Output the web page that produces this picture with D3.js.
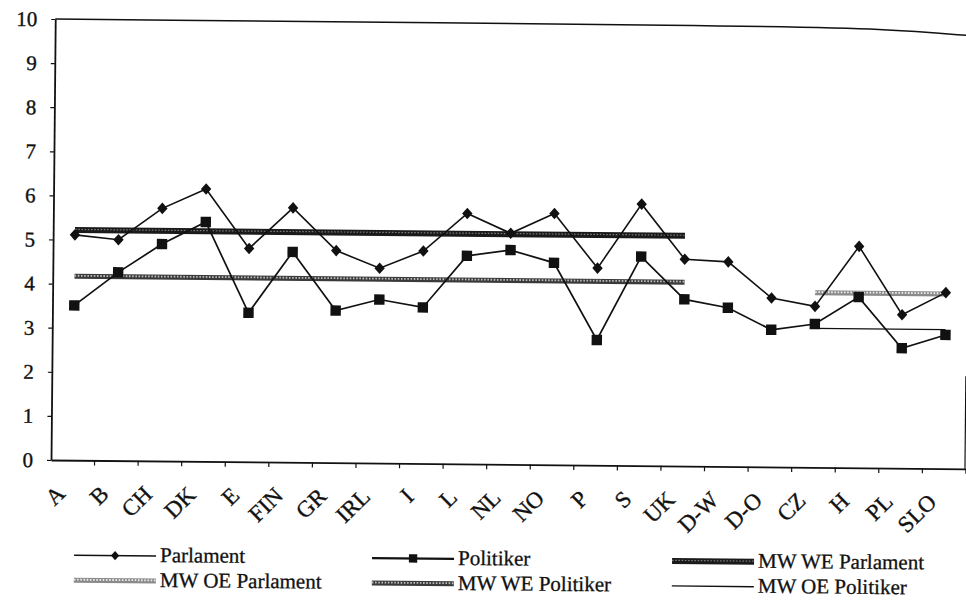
<!DOCTYPE html>
<html>
<head>
<meta charset="utf-8">
<script src="https://cdn.jsdelivr.net/npm/d3@7"></script>
<style>
  body { margin: 0; background: #fff; }
  svg { display: block; font-family: "Liberation Serif", "DejaVu Serif", serif; }
</style>
</head>
<body>
<script>
// Country codes along the x axis.
const categories = ["A", "B", "CH", "DK", "E", "FIN", "GR", "IRL", "I", "L", "NL",
  "NO", "P", "S", "UK", "D-W", "D-O", "CZ", "H", "PL", "SLO"]

// Values.
const parlament = [5.11, 5.01, 5.73, 6.18, 4.84, 5.77, 4.81, 4.42, 4.82, 5.68, 5.24,
  5.70, 4.47, 5.93, 4.69, 4.64, 3.83, 3.65, 5.02, 3.48, 3.99]
const politiker = [3.51, 4.27, 4.92, 5.43, 3.38, 4.77, 3.45, 3.71, 3.54, 4.72, 4.86,
  4.58, 2.84, 4.74, 3.78, 3.60, 3.11, 3.25, 3.87, 2.72, 3.03]

// Mean lines (MW = Mittelwert), each drawn from one country to another.
const meanNames = ["MW WE Parlament", "MW OE Parlament", "MW WE Politiker", "MW OE Politiker"]
const meanValues = [5.22, 3.96, 4.17, 3.15]
const meanFrom = ["A", "CZ", "A", "CZ"]
const meanTo = ["UK", "SLO", "UK", "SLO"]

const yTicks = [0, 1, 2, 3, 4, 5, 6, 7, 8, 9, 10]

// legend reads row by row
const legendLabels = ["Parlament", "Politiker", "MW WE Parlament",
  "MW OE Parlament", "MW WE Politiker", "MW OE Politiker"]

const WIDTH = 966
const HEIGHT = 600
const LEFT = 51
const RIGHT = 966
const TOP = 19
const BOTTOM = 460

// the scan is turned a little clockwise
const TILT = 0.55

const x = d3.scaleBand().domain(categories).range([LEFT, RIGHT])
const y = d3.scaleLinear().domain([0, 10]).range([BOTTOM, TOP])
const cx = (d) => x(d) + x.bandwidth() / 2

// stroke styles of the mean lines: base stroke and a dotted overlay for the texture
const meanStyle = {
  "MW WE Parlament": { color: "#1a1a1a", width: 6, dots: "#7a7a7a", dotWidth: 1.2 },
  "MW OE Parlament": { color: "#8a8a8a", width: 5, dots: "#eeeeee", dotWidth: 1.8 },
  "MW WE Politiker": { color: "#3a3a3a", width: 5, dots: "#bdbdbd", dotWidth: 1.8 },
  "MW OE Politiker": { color: "#111", width: 1.3, dots: null },
}

const diamond = "M0,-5.8L5.2,0L0,5.8L-5.2,0Z"
const square = "M-5.2,-5.2H5.2V5.2H-5.2Z"

const svg = d3.select("body").append("svg").attr("width", WIDTH).attr("height", HEIGHT)
const g = svg.append("g").attr("transform", `rotate(${TILT},${LEFT},${BOTTOM})`)

// frame: top edge (bends down at the right, like the scan) and the bit of right edge
const topEdge = d3.line().curve(d3.curveBasis)
g.append("path")
  .attr("d", topEdge([[LEFT, y(10)], [760, y(10)], [880, y(10) + 2], [RIGHT + 2, y(10) + 8]]))
  .attr("fill", "none").attr("stroke", "#111").attr("stroke-width", 1.5)
g.append("line")
  .attr("x1", RIGHT - 1).attr("x2", RIGHT - 1)
  .attr("y1", y(2.1)).attr("y2", y(0))
  .attr("stroke", "#111").attr("stroke-width", 1.2)

// y axis
const yAxis = g.append("g")
  .attr("transform", `translate(${LEFT},0)`)
  .call(d3.axisLeft(y).tickValues(yTicks).tickSize(4).tickSizeOuter(0).tickPadding(14))
yAxis.select(".domain").attr("stroke", "#111").attr("stroke-width", 1.8)
yAxis.selectAll(".tick line").attr("stroke", "#111").attr("stroke-width", 1.2)
yAxis.selectAll(".tick text")
  .attr("font-family", "Liberation Serif").attr("font-size", 21).attr("fill", "#111")
  .attr("stroke", "#111").attr("stroke-width", 0.35)

// x axis: labels under the band centres, ticks on the band edges
const xAxis = g.append("g")
  .attr("transform", `translate(0,${BOTTOM})`)
  .call(d3.axisBottom(x).tickSize(0).tickSizeOuter(0))
xAxis.select(".domain").attr("stroke", "#111").attr("stroke-width", 1.8)
xAxis.selectAll(".tick text")
  .attr("font-family", "Liberation Serif").attr("font-size", 23).attr("fill", "#111")
  .attr("stroke", "#111").attr("stroke-width", 0.35)
  .attr("text-anchor", "end")
  .attr("y", null).attr("dy", null)
  .attr("transform", "translate(-6,35) rotate(-45)")

xAxis.selectAll(".edge")
  .data(categories.slice(1).concat(["end"]))
  .join("line")
  .attr("class", "edge")
  .attr("x1", (d) => (d === "end" ? RIGHT : x(d)))
  .attr("x2", (d) => (d === "end" ? RIGHT : x(d)))
  .attr("y1", 0).attr("y2", 5)
  .attr("stroke", "#111").attr("stroke-width", 1.2)

// mean lines
const means = meanNames.map((name, i) => ({
  name, value: meanValues[i], from: meanFrom[i], to: meanTo[i],
}))

function drawMean(sel, x1, x2, yy, st) {
  sel.append("line")
    .attr("x1", x1).attr("x2", x2).attr("y1", yy).attr("y2", yy)
    .attr("stroke", st.color).attr("stroke-width", st.width)
  if (st.dots) {
    sel.append("line")
      .attr("x1", x1).attr("x2", x2).attr("y1", yy - 0.6).attr("y2", yy - 0.6)
      .attr("stroke", st.dots).attr("stroke-width", st.dotWidth)
      .attr("stroke-dasharray", "1.6 1.6")
  }
}

for (const m of means) {
  drawMean(g.append("g"), cx(m.from), cx(m.to), y(m.value), meanStyle[m.name])
}

// the two country series
const line = d3.line().x((d, i) => cx(categories[i])).y((d) => y(d))

g.append("path").datum(politiker)
  .attr("d", line).attr("fill", "none").attr("stroke", "#111").attr("stroke-width", 1.7)
g.append("path").datum(parlament)
  .attr("d", line).attr("fill", "none").attr("stroke", "#111").attr("stroke-width", 1.6)

g.selectAll(".sq").data(politiker).join("path")
  .attr("class", "sq")
  .attr("d", square)
  .attr("transform", (d, i) => `translate(${cx(categories[i])},${y(d)})`)
  .attr("fill", "#111")

g.selectAll(".dm").data(parlament).join("path")
  .attr("class", "dm")
  .attr("d", diamond)
  .attr("transform", (d, i) => `translate(${cx(categories[i])},${y(d)})`)
  .attr("fill", "#111")

// legend, 3 columns x 2 rows
const colX = [75, 373, 673]
const rowY = [561, 586]
const SYMBOL_LEN = 82

const legend = g.append("g")
legendLabels.forEach((label, i) => {
  const lx = colX[i % 3]
  const ly = rowY[Math.floor(i / 3)]
  const item = legend.append("g")
  const sy = ly - 6
  if (label === "Parlament" || label === "Politiker") {
    item.append("line")
      .attr("x1", lx).attr("x2", lx + SYMBOL_LEN).attr("y1", sy).attr("y2", sy)
      .attr("stroke", "#111").attr("stroke-width", label === "Politiker" ? 2.2 : 1.6)
    item.append("path")
      .attr("d", label === "Parlament" ? diamond : square)
      .attr("transform", `translate(${lx + SYMBOL_LEN / 2},${sy}) scale(0.8)`)
      .attr("fill", "#111")
  } else {
    drawMean(item, lx, lx + SYMBOL_LEN, sy, meanStyle[label])
  }
  item.append("text")
    .attr("x", lx + SYMBOL_LEN + 4)
    .attr("y", ly)
    .attr("font-size", 21)
    .attr("fill", "#111")
    .attr("stroke", "#111").attr("stroke-width", 0.3)
    .text(label)
})
</script>
</body>
</html>
